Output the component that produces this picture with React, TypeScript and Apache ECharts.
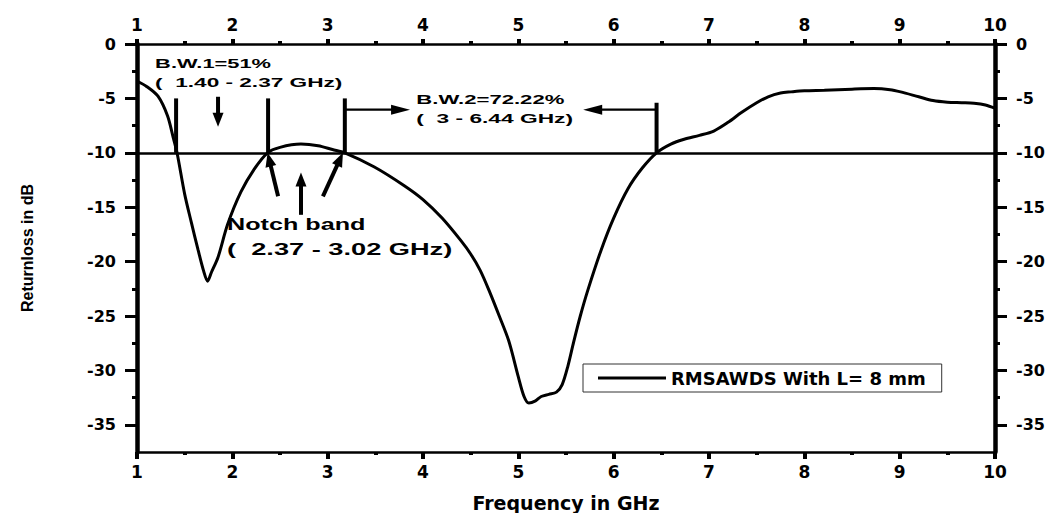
import React, { useEffect, useRef } from "react";
import * as echarts from "echarts";

// ---------- data ----------
const FREQ_GHZ = [
  1.0, 1.1, 1.22, 1.32, 1.38, 1.42, 1.5, 1.57, 1.64, 1.7, 1.74, 1.78, 1.85, 1.95,
  2.09, 2.23, 2.37, 2.5, 2.72, 2.9, 3.05, 3.18, 3.49, 3.8, 4.0, 4.2, 4.4, 4.5,
  4.6, 4.7, 4.8, 4.9, 5.0, 5.06, 5.11, 5.18, 5.24, 5.32, 5.4, 5.46, 5.52, 5.58,
  5.65, 5.73, 5.87, 6.0, 6.15, 6.3, 6.45, 6.6, 6.74, 6.9, 7.05, 7.2, 7.34, 7.5,
  7.62, 7.75, 7.86, 8.0, 8.21, 8.5, 8.73, 8.9, 9.01, 9.2, 9.35, 9.5, 9.65, 9.78,
  9.9, 10.0,
];
const RETURN_LOSS_DB = [
  -3.4, -3.9, -4.8, -6.6, -8.6, -10.0, -13.8, -16.4, -18.9, -20.9, -21.8, -21.0, -19.6, -16.6,
  -13.6, -11.5, -10.0, -9.5, -9.2, -9.35, -9.7, -10.0, -11.3, -13.0, -14.3, -16.0, -18.1, -19.3,
  -20.8, -22.8, -25.0, -27.3, -30.6, -32.4, -33.0, -32.8, -32.4, -32.2, -32.0, -31.3, -29.6, -27.4,
  -25.0, -22.6, -18.9, -16.0, -13.3, -11.4, -10.0, -9.2, -8.75, -8.4, -8.0, -7.2, -6.3, -5.4,
  -4.85, -4.5, -4.4, -4.3, -4.25, -4.15, -4.1, -4.2, -4.4, -4.85, -5.2, -5.35, -5.4, -5.45,
  -5.6, -5.9,
];
const SERIES_NAME = "RMSAWDS With L= 8 mm";
const Y_TICK_VALUES = [0, -5, -10, -15, -20, -25, -30, -35];
const X_MIN = 1;
const X_MAX = 10;
const Y_MIN = -37.5;
const Y_MAX = 0;
const REF_LEVEL = -10;

// annotation anchors (data space)
const MARKER_X = [1.41, 2.375, 3.18, 6.45];
const MARKER_TOP = [-5.0, -5.0, -5.0, -5.4];
const THICK_ARROWS = [
  [1.85, -4.85, 1.85, -7.6],
  [2.48, -14.0, 2.37, -10.0],
  [2.72, -15.7, 2.72, -11.8],
  [2.95, -14.0, 3.16, -10.0],
];
const THIN_ARROWS = [
  [3.18, -6.04, 3.864, -6.04],
  [6.45, -6.04, 5.68, -6.04],
];
const NOTE_TEXTS = ["B.W.1=51%", "(  1.40 - 2.37 GHz)", "B.W.2=72.22%", "(  3 - 6.44 GHz)", "Notch band", "(  2.37 - 3.02 GHz)"];
const NOTE_X = [1.19, 1.19, 3.93, 3.93, 1.945, 1.945];
const NOTE_Y = [-1.79, -3.49, -5.12, -6.82, -16.56, -18.81];
const NOTE_SIZE = [13, 13, 13, 13, 17, 17];
const NOTE_SCALE = [1.68, 1.74, 1.7, 1.75, 1.48, 1.6];

const TICK_FONT = "DejaVu Sans";

export default function App() {
  const ref = useRef<HTMLDivElement>(null);

  useEffect(() => {
    if (!ref.current) return;
    const chart = echarts.init(ref.current, null, { renderer: "svg" });

    const xCommon = (top: boolean) => ({
      type: "value",
      min: X_MIN,
      max: X_MAX,
      interval: 1,
      position: top ? "top" : "bottom",
      axisLine: { show: true, onZero: false, lineStyle: { color: "#000", width: 2.5 } },
      axisTick: { show: true, inside: false, length: top ? 5 : 7, lineStyle: { color: "#000", width: 4 } },
      minorTick: { show: true, splitNumber: 2, length: 3, lineStyle: { color: "#000", width: 4 } },
      splitLine: { show: false },
      minorSplitLine: { show: false },
      axisLabel: {
        show: true,
        color: "#000",
        fontFamily: TICK_FONT,
        fontWeight: "bold",
        fontSize: 17,
        margin: 11,
      },
    });

    const yCommon = (right: boolean) => ({
      type: "value",
      min: Y_MIN,
      max: Y_MAX,
      splitNumber: 8,
      position: right ? "right" : "left",
      axisLine: { show: true, onZero: false, lineStyle: { color: "#000", width: 4.5 } },
      axisTick: {
        show: true,
        inside: false,
        length: 12,
        customValues: Y_TICK_VALUES,
        lineStyle: { color: "#000", width: 3 },
      },
      minorTick: { show: true, splitNumber: 2, length: 5, lineStyle: { color: "#000", width: 3 } },
      splitLine: { show: false },
      minorSplitLine: { show: false },
      axisLabel: {
        show: true,
        customValues: Y_TICK_VALUES,
        color: "#000",
        fontFamily: TICK_FONT,
        fontWeight: "bold",
        fontSize: 16,
        margin: 21,
        align: right ? "left" : "right",
      },
    });

    const option: any = {
      animation: false,
      backgroundColor: "#fff",
      grid: { left: 137, right: 64, top: 44, bottom: 61, containLabel: false, outerBoundsMode: "none" },
      legend: {
        show: true,
        left: 583,
        top: 364,
        padding: [5, 16, 5, 15],
        itemWidth: 68,
        itemHeight: 3,
        icon: "rect",
        borderColor: "#333",
        borderWidth: 1,
        backgroundColor: "#fff",
        selectedMode: false,
        data: [SERIES_NAME],
        textStyle: {
          color: "#000",
          fontFamily: TICK_FONT,
          fontWeight: "bold",
          fontSize: 18,
          width: 288,
        },
      },
      xAxis: [
        {
          ...xCommon(false),
          name: "Frequency in GHz",
          nameLocation: "middle",
          nameGap: 41,
          nameTextStyle: { color: "#000", fontFamily: TICK_FONT, fontWeight: "bold", fontSize: 19 },
        },
        xCommon(true),
      ],
      yAxis: [
        {
          ...yCommon(false),
          name: "Returnloss in dB",
          nameLocation: "middle",
          nameGap: 102,
          nameTextStyle: {
            color: "#000",
            fontFamily: '"Liberation Sans Narrow", "Liberation Sans", Arial, sans-serif',
            fontWeight: "bold",
            fontSize: 16,
          },
        },
        yCommon(true),
      ],
      series: [
        {
          name: SERIES_NAME,
          type: "line",
          xAxisIndex: 0,
          yAxisIndex: 0,
          data: FREQ_GHZ.map((f, i) => [f, RETURN_LOSS_DB[i]]),
          symbol: "none",
          smooth: 0.3,
          color: "#000",
          lineStyle: { color: "#000", width: 3 },
          itemStyle: { color: "#000" },
          markLine: {
            silent: true,
            symbol: ["none", "none"],
            label: { show: false },
            lineStyle: { color: "#000", width: 2.5, type: "solid" },
            data: [{ yAxis: REF_LEVEL }],
          },
        },
      ],
    };

    chart.setOption(option);

    const toPx = (x: number, y: number) => chart.convertToPixel({ gridIndex: 0 }, [x, y]) as number[];
    const els: any[] = [];

    MARKER_X.forEach((x, i) => {
      const a = toPx(x, MARKER_TOP[i]);
      const b = toPx(x, REF_LEVEL);
      els.push({
        type: "line",
        silent: true,
        shape: { x1: a[0], y1: a[1], x2: b[0], y2: b[1] },
        style: { stroke: "#000", lineWidth: 4 },
      });
    });

    const arrow = (x1: number, y1: number, x2: number, y2: number, lw: number, hw: number, hl: number) => {
      const p = toPx(x1, y1);
      const q = toPx(x2, y2);
      const dx = q[0] - p[0];
      const dy = q[1] - p[1];
      const len = Math.hypot(dx, dy) || 1;
      const ux = dx / len;
      const uy = dy / len;
      const bx = q[0] - ux * hl;
      const by = q[1] - uy * hl;
      els.push({
        type: "line",
        silent: true,
        shape: { x1: p[0], y1: p[1], x2: bx + ux, y2: by + uy },
        style: { stroke: "#000", lineWidth: lw },
      });
      els.push({
        type: "polygon",
        silent: true,
        shape: {
          points: [
            [q[0], q[1]],
            [bx - (uy * hw) / 2, by + (ux * hw) / 2],
            [bx + (uy * hw) / 2, by - (ux * hw) / 2],
          ],
        },
        style: { fill: "#000" },
      });
    };

    THICK_ARROWS.forEach((a) => arrow(a[0], a[1], a[2], a[3], 4, 11, 14));
    THIN_ARROWS.forEach((a) => arrow(a[0], a[1], a[2], a[3], 2.2, 10, 19));

    NOTE_TEXTS.forEach((t, i) => {
      const p = toPx(NOTE_X[i], NOTE_Y[i]);
      els.push({
        type: "text",
        silent: true,
        x: p[0],
        y: p[1],
        scaleX: NOTE_SCALE[i],
        z: 20,
        style: {
          text: t,
          font: `bold ${NOTE_SIZE[i]}px "Liberation Sans", Arial, sans-serif`,
          fill: "#000",
          textAlign: "left",
          textVerticalAlign: "middle",
        },
      });
    });

    chart.setOption({ graphic: { elements: els } });

    return () => chart.dispose();
  }, []);

  return (
    <div
      ref={ref}
      style={{ position: "fixed", left: 0, top: 0, width: 1059, height: 513, background: "#fff" }}
    />
  );
}
